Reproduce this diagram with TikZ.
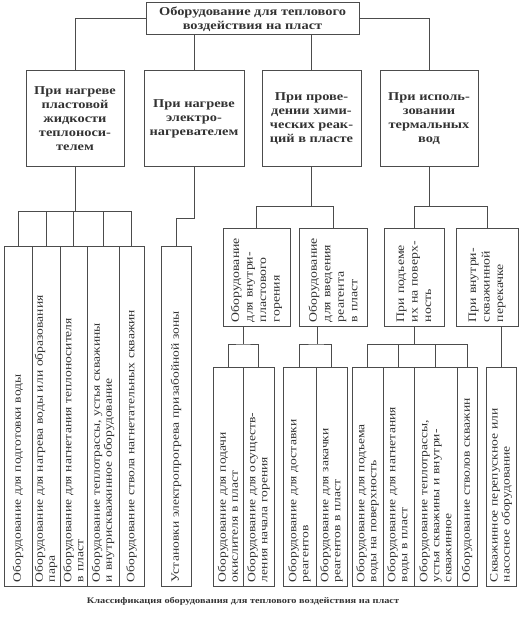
\documentclass[tikz,border=0pt]{standalone}
\usepackage{fontspec}
\setmainfont[FakeStretch=1.2]{Liberation Serif}
\begin{document}
\begin{tikzpicture}[x=1pt,y=-1pt,
  every node/.style={text=black!80},
  box/.style={draw=black!70, line width=1pt, align=center, inner sep=2pt, font=\fontsize{12}{14}\selectfont\bfseries},
  sub/.style={draw=black!70, line width=1pt, rotate=90, align=left, inner xsep=4pt, inner ysep=1pt, font=\fontsize{11.5}{13.5}\selectfont},
  leaf/.style={draw=black!70, line width=1pt, rotate=90, align=left, inner xsep=4pt, inner ysep=1pt, font=\fontsize{11.3}{12}\selectfont},
  wire/.style={draw=black!70, line width=1pt}]
\useasboundingbox (0,0) rectangle (521,617);
% top and first level
\node[box, minimum width=213pt, minimum height=32pt] (top) at (252.5,19) {Оборудование для теплового\\воздействия на пласт};
\node[box, minimum width=98pt, minimum height=96pt] (b1) at (75,119) {При нагреве\\пластовой\\жидкости\\теплоноси-\\телем};
\node[box, minimum width=100pt, minimum height=96pt] (b2) at (194,119) {При нагреве\\электро-\\нагревателем};
\node[box, minimum width=99pt, minimum height=96pt] (b3) at (311.5,119) {При прове-\\дении хими-\\ческих реак-\\ций в пласте};
\node[box, minimum width=98pt, minimum height=96pt] (b4) at (429,119) {При исполь-\\зовании\\термальных\\вод};
\path[wire] (top.west) -| (b1.north);
\path[wire] (top.east) -| (b4.north);
\path[wire] (top.south -| b2.north) -- (b2.north);
\path[wire] (top.south -| b3.north) -- (b3.north);
% second level
\node[sub, text width=89pt, minimum width=97pt, minimum height=67pt] (s1) at (256.5,277.5) {Оборудование\\для внутри-\\пластового\\горения};
\node[sub, text width=89pt, minimum width=97pt, minimum height=68pt] (s2) at (333,277.5) {Оборудование\\для введения\\реагента\\в пласт};
\node[sub, text width=89pt, minimum width=97pt, minimum height=60pt] (s3) at (414,277.5) {При подъеме\\их на поверх-\\ность};
\node[sub, text width=89pt, minimum width=97pt, minimum height=62pt] (s4) at (487,277.5) {При внутри-\\скважинной\\перекачке};
\path[wire] (b3.south) -- ++(0,39) coordinate (j3);
\path[wire] (s1.east) |- (j3) -| (s2.east);
\path[wire] (b4.south) -- ++(0,39) coordinate (j4);
\path[wire] (s3.east) |- (j4) -| (s4.east);
% heat carrier
\node[leaf, text width=332pt, minimum width=340pt, minimum height=28pt] (l11) at (18,416) {Оборудование для подготовки воды};
\node[leaf, text width=332pt, minimum width=340pt, minimum height=28pt] (l12) at (46,416) {Оборудование для нагрева воды или образования\\пара};
\node[leaf, text width=332pt, minimum width=340pt, minimum height=27pt] (l13) at (73.5,416) {Оборудование для нагнетания теплоносителя\\в пласт};
\node[leaf, text width=332pt, minimum width=340pt, minimum height=32pt] (l14) at (103,416) {Оборудование теплотрассы, устья скважины\\и внутрискважинное оборудование};
\node[leaf, text width=332pt, minimum width=340pt, minimum height=25pt] (l15) at (131.5,416) {Оборудование ствола нагнетательных скважин};
\path[wire] (b1.south) -- ++(0,44) coordinate (j1);
\path[wire] (l11.east) |- (j1) -| (l15.east);
\foreach \n in {l12,l13,l14}
  \path[wire] (\n.east) -- (\n.east |- j1);
% electric heater
\node[leaf, text width=332pt, minimum width=340pt, minimum height=30pt] (e1) at (176,416) {Установки электропрогрева призабойной зоны};
\path[wire] (b2.south) -- ++(0,51) -| (e1.east);
% chemical reactions
\node[leaf, text width=211pt, minimum width=219pt, minimum height=30pt] (l21) at (228,476.5) {Оборудование для подачи\\окислителя в пласт};
\node[leaf, text width=211pt, minimum width=219pt, minimum height=31pt] (l22) at (258.5,476.5) {Оборудование для осуществ-\\ления начала горения};
\node[leaf, text width=211pt, minimum width=219pt, minimum height=33pt] (l23) at (299.5,476.5) {Оборудование для доставки\\реагентов};
\node[leaf, text width=211pt, minimum width=219pt, minimum height=31pt] (l24) at (331.5,476.5) {Оборудование для закачки\\реагентов в пласт};
\coordinate (j5) at (243,344);
\coordinate (j6) at (317,344);
\path[wire] (s1.west -| j5) -- (j5);
\path[wire] (l21.east) |- (j5) -| (l22.east);
\path[wire] (s2.west -| j6) -- (j6);
\path[wire] (l23.east) |- (j6) -| (l24.east);
% thermal waters
\node[leaf, text width=211pt, minimum width=219pt, minimum height=31pt] (l31) at (367.5,476.5) {Оборудование для подъема\\воды на поверхность};
\node[leaf, text width=211pt, minimum width=219pt, minimum height=31pt] (l32) at (398.5,476.5) {Оборудование для нагнетания\\воды в пласт};
\node[leaf, text width=211pt, minimum width=219pt, minimum height=43pt] (l33) at (435.5,476.5) {Оборудование теплотрассы,\\устья скважины и внутри-\\скважинное};
\node[leaf, text width=211pt, minimum width=219pt, minimum height=20pt] (l34) at (467,476.5) {Оборудование стволов скважин};
\node[leaf, text width=211pt, minimum width=219pt, minimum height=30pt] (l41) at (501,476.5) {Скважинное перепускное или\\насосное оборудование};
\path[wire] (s3.west) -- ++(0,18) coordinate (j7);
\path[wire] (l31.east) |- (j7) -| (l34.east);
\foreach \n in {l32,l33}
  \path[wire] (\n.east) -- (\n.east |- j7);
\path[wire] (s4.west -| l41.east) -- (l41.east);
\node[font=\fontsize{8.6}{10}\selectfont\bfseries] (cap) at (243,601) {Классификация оборудования для теплового воздействия на пласт};
\end{tikzpicture}
\end{document}
